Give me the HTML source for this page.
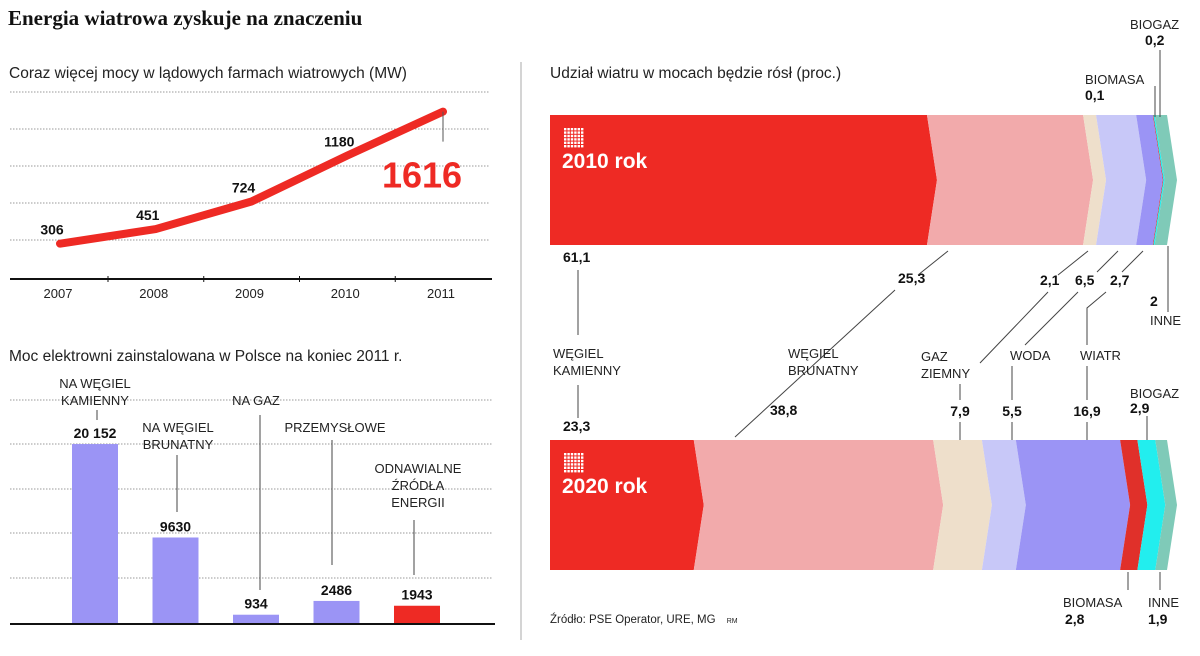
<!DOCTYPE html>
<html><head><meta charset="utf-8">
<style>
body{margin:0;background:#fff;}
svg{display:block;font-family:"Liberation Sans",sans-serif;}
.sub{font-size:15.5px;fill:#222;}
.val{font-size:14px;font-weight:bold;fill:#111;}
.lab{font-size:13px;fill:#222;}
.grid{stroke:#999;stroke-width:1;stroke-dasharray:1.5 1.5;}
.ld{stroke:#444;stroke-width:1;fill:none;}
</style></head><body>
<svg id="c" width="1200" height="656" viewBox="0 0 1200 656">
<text x="8" y="25" style="font-family:'Liberation Serif',serif;font-weight:bold;font-size:21px" fill="#111">Energia wiatrowa zyskuje na znaczeniu</text>
<text class="sub" x="9" y="78">Coraz więcej mocy w lądowych farmach wiatrowych (MW)</text>
<text class="sub" x="9" y="361">Moc elektrowni zainstalowana w Polsce na koniec 2011 r.</text>
<text class="sub" x="550" y="78">Udział wiatru w mocach będzie rósł (proc.)</text>
<line x1="521" y1="62" x2="521" y2="640" stroke="#aaa"/>
<g id="line"></g><g id="bars"></g><g id="share"></g><g id="ann"></g>
<text x="550" y="623" style="font-size:11.5px" fill="#222">Źródło: PSE Operator, URE, MG <tspan font-size="7" dx="8">RM</tspan></text>
</svg>
<script>
const NS="http://www.w3.org/2000/svg";
function mk(tag,attrs,parent,text){const e=document.createElementNS(NS,tag);for(const k in attrs)e.setAttribute(k,attrs[k]);if(text!==undefined)e.textContent=text;parent.appendChild(e);return e;}

// ---- line chart data
const years=["2007","2008","2009","2010","2011"];
const windMW=[306,451,724,1180,1616];
const lineLabels=["306","451","724","1180","1616"];
const lx=i=>60+i*95.75, ly=v=>274.5-v*0.1008;
const gL=document.getElementById("line");
[92,129,166,203,240].forEach(y=>{const l=mk("line",{x1:10,x2:490,y1:y,y2:y,class:"grid"},gL);

});
const ax=mk("line",{x1:10,x2:492,y1:279,y2:279,stroke:"#111","stroke-width":2},gL);


years.forEach((y,i)=>{
 if(i<4){const t=mk("line",{x1:lx(i)+48,x2:lx(i)+48,y1:276,y2:282,stroke:"#111"},gL);
 
 }
 const tx=mk("text",{x:lx(i)-2,y:298,"text-anchor":"middle",class:"lab","font-size":"13.5"},gL,y);
 
 
});
const pl=mk("polyline",{points:windMW.map((v,i)=>lx(i)+","+ly(v)).join(" "),fill:"none",stroke:"#ee2a24","stroke-width":8,"stroke-linecap":"round","stroke-linejoin":"round"},gL);


windMW.forEach((v,i)=>{
 if(i<4){const t=mk("text",{x:lx(i)-8,y:ly(v)-9,"text-anchor":"middle",class:"val","font-size":"13"},gL,lineLabels[i]);
 
 }
 else{mk("line",{x1:lx(i),x2:lx(i),y1:ly(v),y2:ly(v)+30,stroke:"#555"},gL);
 const t=mk("text",{x:lx(i)-21,y:ly(v)+76,"text-anchor":"middle","font-weight":"bold","font-size":"36",fill:"#ee2a24"},gL,lineLabels[i]);
 
 }
});

// ---- bar chart data
const plants=["NA WĘGIEL KAMIENNY","NA WĘGIEL BRUNATNY","NA GAZ","PRZEMYSŁOWE","ODNAWIALNE ŹRÓDŁA ENERGII"];
const plantMW=[20152,9630,934,2486,1943];
const plantLabels=["20 152","9630","934","2486","1943"];
const bx=i=>72+i*80.5, by=v=>623-v*0.00888;
const gB=document.getElementById("bars");
[400,444,489,533,578].forEach(y=>{const l=mk("line",{x1:10,x2:492,y1:y,y2:y,class:"grid"},gB);

});
plantMW.forEach((v,i)=>{
 const r=mk("rect",{x:bx(i),y:by(v),width:46,height:623-by(v),fill:i==4?"#ee2a24":"#9b94f5"},gB);
 
 
 const t=mk("text",{x:bx(i)+23,y:by(v)-6,"text-anchor":"middle",class:"val"},gB,plantLabels[i]);
 
 
});
const bax=mk("line",{x1:10,x2:495,y1:624,y2:624,stroke:"#111","stroke-width":2},gB);



// ---- share chart data
const shares2010=[61.1,25.3,2.1,6.5,2.7,0.1,0.2,2];
const shares2020=[23.3,38.8,7.9,5.5,16.9,2.8,2.9,1.9];
const sources=["WĘGIEL KAMIENNY","WĘGIEL BRUNATNY","GAZ ZIEMNY","WODA","WIATR","BIOMASA","BIOGAZ","INNE"];
const colors=["#ee2a24","#f2aaab","#eedfcb","#c8c8f8","#9b94f5","#e0302a","#22eeee","#7fcab8"];
const gS=document.getElementById("share");
const sx=p=>550+p*6.17;
function stack(vals,top,year){
 const bot=top+130,mid=top+65,t=10;let acc=0;
 vals.forEach((v,i)=>{
  const x0=sx(acc),x1=sx(acc+v);acc+=v;
  const left=i==0?[[x0,bot],[x0,top]]:[[x0,bot],[x0+t,mid],[x0,top]];
  const pts=[...left,[x1,top],[x1+t,mid],[x1,bot]];
  const p=mk("polygon",{points:pts.map(q=>q.join(",")).join(" "),fill:colors[i]},gS);
  
  
 });
 for(let r=0;r<6;r++)for(let c=0;c<6;c++)mk("rect",{x:564+c*3.4,y:top+13+r*3.4,width:2.4,height:2.4,fill:"#fff"},gS);
 const tx=mk("text",{x:562,y:top+53,fill:"#fff","font-weight":"bold","font-size":"21"},gS,year+" rok");
 
 
}
stack(shares2010,115,"2010");
stack(shares2020,440,"2020");

// ---- annotations
const gA=document.getElementById("ann");
function T(x,y,s,cls,anchor){const t=mk("text",{x:x,y:y,class:cls,"text-anchor":anchor||"start"},gA,s);

}
function L(pts){mk("polyline",{points:pts.map(q=>q.join(",")).join(" "),class:"ld"},gA);}
// left bar labels
T(95,388,"NA WĘGIEL","lab","middle");T(95,405,"KAMIENNY","lab","middle");L([[97,410],[97,420]]);
T(178,432,"NA WĘGIEL","lab","middle");T(178,449,"BRUNATNY","lab","middle");L([[177,455],[177,512]]);
T(256,405,"NA GAZ","lab","middle");L([[260,415],[260,590]]);
T(335,432,"PRZEMYSŁOWE","lab","middle");L([[332,440],[332,565]]);
T(418,473,"ODNAWIALNE","lab","middle");T(418,490,"ŹRÓDŁA","lab","middle");T(418,507,"ENERGII","lab","middle");L([[414,520],[414,575]]);
// share annotations
T(563,262,"61,1","val");T(563,431,"23,3","val");
L([[578,270],[578,335]]);L([[578,385],[578,418]]);
T(553,358,"WĘGIEL","lab");T(553,375,"KAMIENNY","lab");
T(898,283,"25,3","val");L([[948,251],[918,275]]);L([[895,290],[735,437]]);
T(788,358,"WĘGIEL","lab");T(788,375,"BRUNATNY","lab");
T(770,415,"38,8","val");
T(1040,285,"2,1","val");L([[1088,251],[1058,275]]);L([[1048,292],[980,363]]);
T(1075,285,"6,5","val");L([[1118,251],[1097,272]]);L([[1078,292],[1025,345]]);
T(1110,285,"2,7","val");L([[1143,251],[1122,272]]);L([[1106,292],[1087,308],[1087,345]]);
T(921,361,"GAZ","lab");T(921,378,"ZIEMNY","lab");L([[960,384],[960,400]]);T(960,416,"7,9","val","middle");L([[960,422],[960,440]]);
T(1010,360,"WODA","lab");L([[1012,366],[1012,400]]);T(1012,416,"5,5","val","middle");L([[1012,422],[1012,440]]);
T(1080,360,"WIATR","lab");L([[1087,366],[1087,400]]);T(1087,416,"16,9","val","middle");L([[1087,422],[1087,440]]);
T(1130,398,"BIOGAZ","lab");T(1130,413,"2,9","val");L([[1147,416],[1147,440]]);
T(1150,306,"2","val");T(1150,325,"INNE","lab");L([[1168,246],[1168,312]]);
T(1085,84,"BIOMASA","lab");T(1085,100,"0,1","val");L([[1155,86],[1155,117]]);
T(1130,29,"BIOGAZ","lab");T(1145,45,"0,2","val");L([[1160,50],[1160,117]]);
L([[1128,572],[1128,590]]);T(1063,607,"BIOMASA","lab");T(1065,624,"2,8","val");
L([[1160,572],[1160,590]]);T(1148,607,"INNE","lab");T(1148,624,"1,9","val");
</script>
</body></html>
